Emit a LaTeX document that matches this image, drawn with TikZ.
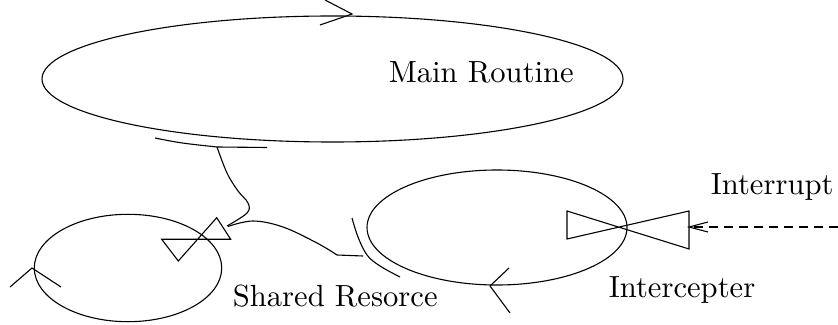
\documentclass[tikz,border=0pt]{standalone}
\begin{document}
\begin{tikzpicture}[x=0.5pt,y=-0.5pt,line width=0.55pt,line join=miter,
  lbl/.style={inner sep=0pt,anchor=base west,scale=1.53},
  tip/.style={line width=0.55pt},
  curvy/.style={smooth,tension=0.6}]
\useasboundingbox (0,0) rectangle (838,325);
% ellipses
\coordinate (mainC) at (332.5,79);
\coordinate (leftC) at (128,268);
\coordinate (rightC) at (497,227.5);
\draw (mainC) ellipse [x radius=290.5, y radius=63];
\draw (leftC) ellipse [x radius=93.7, y radius=53.7];
\draw (rightC) ellipse [x radius=130, y radius=57.5];
% direction marks
\draw[tip] (325,0) -- (352,14) -- (320,25);
\draw[tip] (10,287) -- (32,268) -- (61,287);
\draw[tip] (509,268) -- (490,286) -- (510,313);
% texts
\node[lbl] (mainT) at (388,83) {Main Routine};
\node[lbl] (sharedT) at (232,306) {Shared Resorce};
\node[lbl] (interT) at (608,297) {Intercepter};
\node[lbl] (irqT) at (710,195) {Interrupt};
% left bowtie
\draw (161.7,239.3) -- (230.7,239.3) -- (216.7,217.7) -- (178.3,261) -- cycle;
% right bowtie
\coordinate (rbR) at (689,227);
\draw (567,211) -- (567,239) -- (689,211) -- (689,249) -- cycle;
% contact under main routine
\coordinate (m1) at (217,147);
\draw (155,138) .. controls (180,143) .. (m1) -- (267,147.5);
% contact at intercepter
\draw plot[curvy] coordinates {(352,218) (358,237) (367,255) (380,266) (400,277)};
% wires
\draw plot[curvy] coordinates {(217,147) (227,173) (238,191) (248,203) (247,213) (227,226)};
\draw plot[curvy] coordinates {(228,226.5) (253,221) (283,227) (317,243) (337,255)} -- (363,256);
% interrupt arrow
\coordinate (irqE) at (838,227);
\draw[dash pattern=on 4.7pt off 2.8pt] (irqE) -- (rbR);
\draw[tip] (708,222) -- (rbR) -- (708,232);
\end{tikzpicture}
\end{document}
